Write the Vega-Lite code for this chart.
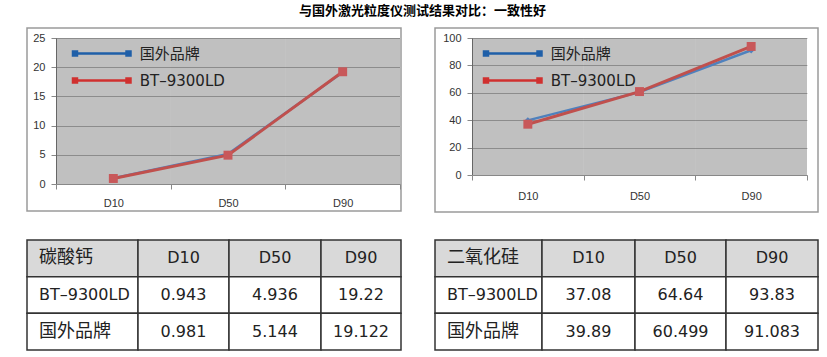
{
  "$schema": "https://vega.github.io/schema/vega-lite/v6.json",
  "background": "white",
  "padding": {"left": 26, "top": 5, "right": 5, "bottom": 5},
  "title": {"text": "与国外激光粒度仪测试结果对比：一致性好", "anchor": "middle", "font": "Noto Sans CJK SC", "fontSize": 13, "fontWeight": "bold", "color": "#000", "offset": 9},
  "config": {"view": {"stroke": null}},
  "resolve": {"scale": {"color": "independent"}, "legend": {"color": "independent"}},
  "datasets": {
    "c1": [
      {"s": "国外品牌", "cat": "D10", "v": 0.981},
      {"s": "国外品牌", "cat": "D50", "v": 5.144},
      {"s": "国外品牌", "cat": "D90", "v": 19.122},
      {"s": "BT–9300LD", "cat": "D10", "v": 0.943},
      {"s": "BT–9300LD", "cat": "D50", "v": 4.936},
      {"s": "BT–9300LD", "cat": "D90", "v": 19.22}
    ],
    "c2": [
      {"s": "国外品牌", "cat": "D10", "v": 39.89},
      {"s": "国外品牌", "cat": "D50", "v": 60.499},
      {"s": "国外品牌", "cat": "D90", "v": 91.083},
      {"s": "BT–9300LD", "cat": "D10", "v": 37.08},
      {"s": "BT–9300LD", "cat": "D50", "v": 60.9},
      {"s": "BT–9300LD", "cat": "D90", "v": 93.83}
    ],
    "t1": [
      {"r": 1, "c": 0, "t": "碳酸钙"}, {"r": 1, "c": 1, "t": "D10"}, {"r": 1, "c": 2, "t": "D50"}, {"r": 1, "c": 3, "t": "D90"},
      {"r": 2, "c": 0, "t": "BT–9300LD"}, {"r": 2, "c": 1, "t": "0.943"}, {"r": 2, "c": 2, "t": "4.936"}, {"r": 2, "c": 3, "t": "19.22"},
      {"r": 3, "c": 0, "t": "国外品牌"}, {"r": 3, "c": 1, "t": "0.981"}, {"r": 3, "c": 2, "t": "5.144"}, {"r": 3, "c": 3, "t": "19.122"}
    ],
    "t2": [
      {"r": 1, "c": 0, "t": "二氧化硅"}, {"r": 1, "c": 1, "t": "D10"}, {"r": 1, "c": 2, "t": "D50"}, {"r": 1, "c": 3, "t": "D90"},
      {"r": 2, "c": 0, "t": "BT–9300LD"}, {"r": 2, "c": 1, "t": "37.08"}, {"r": 2, "c": 2, "t": "64.64"}, {"r": 2, "c": 3, "t": "93.83"},
      {"r": 3, "c": 0, "t": "国外品牌"}, {"r": 3, "c": 1, "t": "39.89"}, {"r": 3, "c": 2, "t": "60.499"}, {"r": 3, "c": 3, "t": "91.083"}
    ]
  },
  "spacing": 32,
  "hconcat": [
    {
      "spacing": 27,
      "vconcat": [
        {
          "width": 374, "height": 183,
          "view": {"stroke": "#9a9a9a", "strokeWidth": 1.5, "fill": "white"},
          "data": {"name": "c1"},
          "encoding": {
            "x": {"field": "cat", "type": "nominal", "sort": ["D10", "D50", "D90"],
                  "scale": {"range": [29, 373], "paddingInner": 0, "paddingOuter": 0},
                  "axis": {"title": null, "offset": -27, "labelAngle": 0, "tickBand": "extent", "tickSize": 5, "tickColor": "#888", "domainColor": "#888", "labelFont": "Liberation Sans", "labelFontSize": 11, "labelColor": "#333", "labelPadding": 8, "grid": false}},
            "y": {"field": "v", "type": "quantitative",
                  "scale": {"domain": [0, 25], "range": [156, 10], "nice": false, "zero": true},
                  "axis": {"title": null, "offset": -29, "values": [0, 5, 10, 15, 20, 25], "grid": true, "gridColor": "#bababa", "domainColor": "#888", "tickColor": "#888", "tickSize": 5, "labelFont": "Liberation Sans", "labelFontSize": 11, "labelColor": "#333", "labelPadding": 6}}
          },
          "layer": [
            {"transform": [{"filter": "datum.s == 'BT–9300LD'"}], "mark": {"type": "rect", "color": "black", "opacity": 0.247}, "encoding": {"y": {"datum": 0, "type": "quantitative"}, "y2": {"datum": 25}}},
            {"transform": [{"filter": "datum.s == '国外品牌'"}], "mark": {"type": "line", "strokeWidth": 2.5},
             "encoding": {"color": {"field": "s", "type": "nominal", "scale": {"domain": ["国外品牌", "BT–9300LD"], "range": ["#4F81BD", "#C0504D"]},
               "legend": {"orient": "none", "legendX": 67.25, "legendY": 18, "title": null, "padding": 0, "rowPadding": 11,
                 "symbolType": "M-8,-0.88H-6.27V0.88H-8Z M6.27,-0.88H8V0.88H6.27Z M-6.5,-0.33H6.5V0.33H-6.5Z", "symbolSize": 56.25,
                 "labelFont": "DejaVu Sans, Noto Sans CJK SC", "labelFontSize": 15, "labelColor": "#222", "labelOffset": 30.5,
                 "encode": {"symbols": {"update": {"fill": {"signal": "datum.value === '国外品牌' ? '#1F5FA8' : '#D0302F'"}, "stroke": {"value": "transparent"}, "strokeWidth": {"value": 0}, "opacity": {"value": 1}}}}}}}},
            {"transform": [{"filter": "datum.s == '国外品牌'"}], "mark": {"type": "point", "filled": true, "shape": "diamond", "size": 40, "opacity": 1, "color": "#4F81BD"}},
            {"transform": [{"filter": "datum.s == 'BT–9300LD'"}], "mark": {"type": "line", "strokeWidth": 3}, "encoding": {"color": {"field": "s", "type": "nominal"}}},
            {"transform": [{"filter": "datum.s == 'BT–9300LD'"}], "mark": {"type": "square", "filled": true, "size": 80, "opacity": 1, "color": "#C8585A"}}
          ]
        },
        {
          "spacing": 0,
          "bounds": "flush",
          "hconcat": [
            {"width": 111, "height": 110, "data": {"name": "t1"}, "transform": [{"filter": "datum.c == 0"}],
             "encoding": {"y": {"field": "r", "type": "ordinal", "axis": null, "scale": {"paddingInner": 0, "paddingOuter": 0}}},
             "layer": [
               {"mark": {"type": "rect", "stroke": "#333", "strokeWidth": 1.5}, "encoding": {"fill": {"condition": {"test": "datum.r == 1", "value": "#d9d9d9"}, "value": "white"}}},
               {"mark": {"type": "text", "align": "left", "baseline": "middle", "dx": 12, "font": "DejaVu Sans, Noto Sans CJK SC", "color": "#222"},
                "encoding": {"x": {"datum": 0, "type": "quantitative", "scale": {"domain": [0, 1]}, "axis": null}, "text": {"field": "t"},
                  "size": {"condition": {"test": "test(/[一-龥]/, datum.t)", "value": 18}, "value": 16}}}
             ]},
            {"width": 91, "height": 110, "data": {"name": "t1"}, "transform": [{"filter": "datum.c == 1"}],
             "encoding": {"y": {"field": "r", "type": "ordinal", "axis": null, "scale": {"paddingInner": 0, "paddingOuter": 0}}},
             "layer": [
               {"mark": {"type": "rect", "stroke": "#333", "strokeWidth": 1.5}, "encoding": {"fill": {"condition": {"test": "datum.r == 1", "value": "#d9d9d9"}, "value": "white"}}},
               {"mark": {"type": "text", "align": "center", "baseline": "middle", "font": "DejaVu Sans", "fontSize": 16, "color": "#222"}, "encoding": {"text": {"field": "t"}}}
             ]},
            {"width": 92, "height": 110, "data": {"name": "t1"}, "transform": [{"filter": "datum.c == 2"}],
             "encoding": {"y": {"field": "r", "type": "ordinal", "axis": null, "scale": {"paddingInner": 0, "paddingOuter": 0}}},
             "layer": [
               {"mark": {"type": "rect", "stroke": "#333", "strokeWidth": 1.5}, "encoding": {"fill": {"condition": {"test": "datum.r == 1", "value": "#d9d9d9"}, "value": "white"}}},
               {"mark": {"type": "text", "align": "center", "baseline": "middle", "font": "DejaVu Sans", "fontSize": 16, "color": "#222"}, "encoding": {"text": {"field": "t"}}}
             ]},
            {"width": 80, "height": 110, "data": {"name": "t1"}, "transform": [{"filter": "datum.c == 3"}],
             "encoding": {"y": {"field": "r", "type": "ordinal", "axis": null, "scale": {"paddingInner": 0, "paddingOuter": 0}}},
             "layer": [
               {"mark": {"type": "rect", "stroke": "#333", "strokeWidth": 1.5}, "encoding": {"fill": {"condition": {"test": "datum.r == 1", "value": "#d9d9d9"}, "value": "white"}}},
               {"mark": {"type": "text", "align": "center", "baseline": "middle", "font": "DejaVu Sans", "fontSize": 16, "color": "#222"}, "encoding": {"text": {"field": "t"}}}
             ]}
          ]
        }
      ]
    },
    {
      "spacing": 26,
      "vconcat": [
        {
          "width": 383, "height": 184,
          "view": {"stroke": "#9a9a9a", "strokeWidth": 1.5, "fill": "white"},
          "data": {"name": "c2"},
          "encoding": {
            "x": {"field": "cat", "type": "nominal", "sort": ["D10", "D50", "D90"],
                  "scale": {"range": [37, 372], "paddingInner": 0, "paddingOuter": 0},
                  "axis": {"title": null, "offset": -37, "labelAngle": 0, "tickBand": "extent", "tickSize": 5, "tickColor": "#888", "domainColor": "#888", "labelFont": "Liberation Sans", "labelFontSize": 11, "labelColor": "#333", "labelPadding": 10, "grid": false}},
            "y": {"field": "v", "type": "quantitative",
                  "scale": {"domain": [0, 100], "range": [147, 10], "nice": false, "zero": true},
                  "axis": {"title": null, "offset": -37, "values": [0, 20, 40, 60, 80, 100], "grid": true, "gridColor": "#bababa", "domainColor": "#888", "tickColor": "#888", "tickSize": 5, "labelFont": "Liberation Sans", "labelFontSize": 11, "labelColor": "#333", "labelPadding": 6}}
          },
          "layer": [
            {"transform": [{"filter": "datum.s == 'BT–9300LD'"}], "mark": {"type": "rect", "color": "black", "opacity": 0.247}, "encoding": {"y": {"datum": 0, "type": "quantitative"}, "y2": {"datum": 100}}},
            {"transform": [{"filter": "datum.s == '国外品牌'"}], "mark": {"type": "line", "strokeWidth": 2.5},
             "encoding": {"color": {"field": "s", "type": "nominal", "scale": {"domain": ["国外品牌", "BT–9300LD"], "range": ["#4F81BD", "#C0504D"]},
               "legend": {"orient": "none", "legendX": 70.25, "legendY": 18, "title": null, "padding": 0, "rowPadding": 11,
                 "symbolType": "M-8,-0.88H-6.27V0.88H-8Z M6.27,-0.88H8V0.88H6.27Z M-6.5,-0.33H6.5V0.33H-6.5Z", "symbolSize": 56.25,
                 "labelFont": "DejaVu Sans, Noto Sans CJK SC", "labelFontSize": 15, "labelColor": "#222", "labelOffset": 30.5,
                 "encode": {"symbols": {"update": {"fill": {"signal": "datum.value === '国外品牌' ? '#1F5FA8' : '#D0302F'"}, "stroke": {"value": "transparent"}, "strokeWidth": {"value": 0}, "opacity": {"value": 1}}}}}}}},
            {"transform": [{"filter": "datum.s == '国外品牌'"}], "mark": {"type": "point", "filled": true, "shape": "diamond", "size": 40, "opacity": 1, "color": "#4F81BD"}},
            {"transform": [{"filter": "datum.s == 'BT–9300LD'"}], "mark": {"type": "line", "strokeWidth": 3}, "encoding": {"color": {"field": "s", "type": "nominal"}}},
            {"transform": [{"filter": "datum.s == 'BT–9300LD'"}], "mark": {"type": "square", "filled": true, "size": 80, "opacity": 1, "color": "#C8585A"}}
          ]
        },
        {
          "spacing": 0,
          "bounds": "flush",
          "hconcat": [
            {"width": 107, "height": 110, "data": {"name": "t2"}, "transform": [{"filter": "datum.c == 0"}],
             "encoding": {"y": {"field": "r", "type": "ordinal", "axis": null, "scale": {"paddingInner": 0, "paddingOuter": 0}}},
             "layer": [
               {"mark": {"type": "rect", "stroke": "#333", "strokeWidth": 1.5}, "encoding": {"fill": {"condition": {"test": "datum.r == 1", "value": "#d9d9d9"}, "value": "white"}}},
               {"mark": {"type": "text", "align": "left", "baseline": "middle", "dx": 12, "font": "DejaVu Sans, Noto Sans CJK SC", "color": "#222"},
                "encoding": {"x": {"datum": 0, "type": "quantitative", "scale": {"domain": [0, 1]}, "axis": null}, "text": {"field": "t"},
                  "size": {"condition": {"test": "test(/[一-龥]/, datum.t)", "value": 18}, "value": 16}}}
             ]},
            {"width": 93, "height": 110, "data": {"name": "t2"}, "transform": [{"filter": "datum.c == 1"}],
             "encoding": {"y": {"field": "r", "type": "ordinal", "axis": null, "scale": {"paddingInner": 0, "paddingOuter": 0}}},
             "layer": [
               {"mark": {"type": "rect", "stroke": "#333", "strokeWidth": 1.5}, "encoding": {"fill": {"condition": {"test": "datum.r == 1", "value": "#d9d9d9"}, "value": "white"}}},
               {"mark": {"type": "text", "align": "center", "baseline": "middle", "font": "DejaVu Sans", "fontSize": 16, "color": "#222"}, "encoding": {"text": {"field": "t"}}}
             ]},
            {"width": 91, "height": 110, "data": {"name": "t2"}, "transform": [{"filter": "datum.c == 2"}],
             "encoding": {"y": {"field": "r", "type": "ordinal", "axis": null, "scale": {"paddingInner": 0, "paddingOuter": 0}}},
             "layer": [
               {"mark": {"type": "rect", "stroke": "#333", "strokeWidth": 1.5}, "encoding": {"fill": {"condition": {"test": "datum.r == 1", "value": "#d9d9d9"}, "value": "white"}}},
               {"mark": {"type": "text", "align": "center", "baseline": "middle", "font": "DejaVu Sans", "fontSize": 16, "color": "#222"}, "encoding": {"text": {"field": "t"}}}
             ]},
            {"width": 92, "height": 110, "data": {"name": "t2"}, "transform": [{"filter": "datum.c == 3"}],
             "encoding": {"y": {"field": "r", "type": "ordinal", "axis": null, "scale": {"paddingInner": 0, "paddingOuter": 0}}},
             "layer": [
               {"mark": {"type": "rect", "stroke": "#333", "strokeWidth": 1.5}, "encoding": {"fill": {"condition": {"test": "datum.r == 1", "value": "#d9d9d9"}, "value": "white"}}},
               {"mark": {"type": "text", "align": "center", "baseline": "middle", "font": "DejaVu Sans", "fontSize": 16, "color": "#222"}, "encoding": {"text": {"field": "t"}}}
             ]}
          ]
        }
      ]
    }
  ]
}
